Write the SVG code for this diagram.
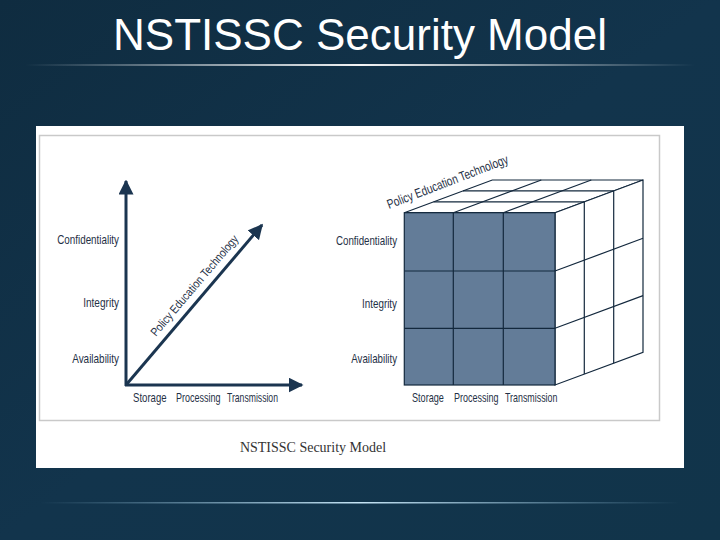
<svg xmlns="http://www.w3.org/2000/svg" width="720" height="540" viewBox="0 0 720 540">
<defs>
<linearGradient id="bg" x1="0" y1="0" x2="1" y2="1">
<stop offset="0" stop-color="#0f2c40"/>
<stop offset="0.5" stop-color="#12344c"/>
<stop offset="1" stop-color="#11344a"/>
</linearGradient>
<linearGradient id="rule" x1="0" y1="0" x2="1" y2="0">
<stop offset="0" stop-color="#ffffff" stop-opacity="0"/>
<stop offset="0.5" stop-color="#ffffff" stop-opacity="0.95"/>
<stop offset="1" stop-color="#ffffff" stop-opacity="0"/>
</linearGradient>
<linearGradient id="rule2" x1="0" y1="0" x2="1" y2="0">
<stop offset="0" stop-color="#9fd0ea" stop-opacity="0"/>
<stop offset="0.5" stop-color="#cfeeff" stop-opacity="0.95"/>
<stop offset="1" stop-color="#9fd0ea" stop-opacity="0"/>
</linearGradient>
<marker id="ah" viewBox="0 0 10 10" refX="9" refY="5" markerWidth="5" markerHeight="5" orient="auto" markerUnits="strokeWidth">
<path d="M0,0 L10,5 L0,10 z" fill="#1b3550"/>
</marker>
<style>
.lbl{font-family:"Liberation Sans",Arial,sans-serif;font-size:12px;fill:#1f3146}
.axis{stroke:#1b3550;stroke-width:3;fill:none}
.face{fill:#637c98;stroke:#13283d;stroke-width:1.2}
.side{fill:#ffffff;stroke:#13283d;stroke-width:1.2}
.ln{stroke:#13283d;stroke-width:1.2;fill:none}
</style>
</defs>
<rect width="720" height="540" fill="url(#bg)"/>
<text x="360" y="50" text-anchor="middle" font-family="Liberation Sans,Arial,sans-serif" font-size="44" fill="#ffffff">NSTISSC Security Model</text>
<rect x="25" y="64" width="670" height="2" fill="url(#rule)"/>
<rect x="40" y="502" width="640" height="1.5" fill="url(#rule2)"/>

<g id="panel">
<rect x="36" y="126" width="648" height="342" fill="#ffffff"/>
<rect x="39.5" y="135.5" width="620" height="285" fill="none" stroke="#c9c9c9" stroke-width="1.5"/>
<text x="313" y="452" text-anchor="middle" font-family="Liberation Serif,serif" font-size="14" fill="#333">NSTISSC Security Model</text>
</g>

<g id="connectors">
<line class="axis" x1="126" y1="386" x2="126" y2="181" marker-end="url(#ah)"/>
<line class="axis" x1="125" y1="385" x2="302" y2="385" marker-end="url(#ah)"/>
<line class="axis" x1="126" y1="385" x2="262" y2="225" marker-end="url(#ah)"/>
</g>

<g id="left-labels">
<text class="lbl" text-anchor="end" transform="translate(119,244) scale(0.82,1)">Confidentiality</text>
<text class="lbl" text-anchor="end" transform="translate(119,307) scale(0.84,1)">Integrity</text>
<text class="lbl" text-anchor="end" transform="translate(119,363) scale(0.83,1)">Availability</text>
<text class="lbl" transform="translate(133,402) scale(0.8,1)">Storage</text>
<text class="lbl" transform="translate(176,402) scale(0.75,1)">Processing</text>
<text class="lbl" transform="translate(227,402) scale(0.72,1)">Transmission</text>
<text class="lbl" transform="translate(156,337) rotate(-49.6) scale(0.84,1)">Policy Education Technology</text>
</g>

<g id="cube">
<polygon class="side" points="404.3,212.7 555,212.7 643,180 492.3,180"/>
<polygon class="side" points="555,212.7 643,180 643,352.3 555,385"/>
<line class="ln" x1="433.6" y1="201.8" x2="584.3" y2="201.8"/>
<line class="ln" x1="463" y1="190.9" x2="613.7" y2="190.9"/>
<line class="ln" x1="453.3" y1="212.7" x2="541.3" y2="180"/>
<line class="ln" x1="503.3" y1="212.7" x2="591.3" y2="180"/>
<line class="ln" x1="584.3" y1="201.8" x2="584.3" y2="374.1"/>
<line class="ln" x1="613.7" y1="190.9" x2="613.7" y2="363.2"/>
<line class="ln" x1="555" y1="271" x2="643" y2="238.3"/>
<line class="ln" x1="555" y1="328.3" x2="643" y2="295.6"/>
<rect class="face" x="404.3" y="212.7" width="150.7" height="172.3"/>
<line class="ln" x1="453.3" y1="212.7" x2="453.3" y2="385"/>
<line class="ln" x1="503.3" y1="212.7" x2="503.3" y2="385"/>
<line class="ln" x1="404.3" y1="271" x2="555" y2="271"/>
<line class="ln" x1="404.3" y1="328.3" x2="555" y2="328.3"/>
</g>

<g id="right-labels">
<text class="lbl" text-anchor="end" transform="translate(397,245) scale(0.81,1)">Confidentiality</text>
<text class="lbl" text-anchor="end" transform="translate(397,308) scale(0.82,1)">Integrity</text>
<text class="lbl" text-anchor="end" transform="translate(397,363) scale(0.81,1)">Availability</text>
<text class="lbl" transform="translate(412,402) scale(0.76,1)">Storage</text>
<text class="lbl" transform="translate(454,402) scale(0.75,1)">Processing</text>
<text class="lbl" transform="translate(505,402) scale(0.74,1)">Transmission</text>
<text class="lbl" style="font-size:13px" transform="translate(389,209) rotate(-21) scale(0.78,1)">Policy Education Technology</text>
</g>
</svg>
